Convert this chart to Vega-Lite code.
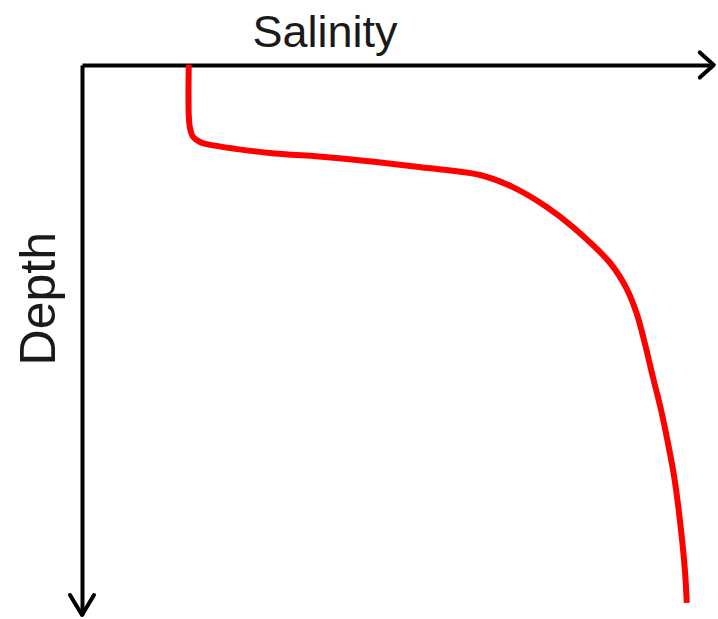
{
  "$schema": "https://vega.github.io/schema/vega-lite/v6.json",
  "width": 628,
  "height": 550,
  "autosize": {"type": "none"},
  "padding": {"left": 82, "top": 65, "right": 8, "bottom": 4},
  "background": "white",
  "config": {
    "view": {"stroke": null},
    "axis": {"labels": false, "ticks": false, "grid": false, "domainColor": "black", "domainWidth": 4, "title": null}
  },
  "datasets": {
    "curve": [
      {"order": 1, "salinity": 17.0, "depth": 0},
      {"order": 2, "salinity": 17.0, "depth": 9.1},
      {"order": 3, "salinity": 17.2, "depth": 11.5},
      {"order": 4, "salinity": 17.7, "depth": 13.1},
      {"order": 5, "salinity": 18.8, "depth": 14.0},
      {"order": 6, "salinity": 19.9, "depth": 14.4},
      {"order": 7, "salinity": 24.7, "depth": 15.3},
      {"order": 8, "salinity": 29.9, "depth": 16.0},
      {"order": 9, "salinity": 39.5, "depth": 16.8},
      {"order": 10, "salinity": 46.5, "depth": 17.6},
      {"order": 11, "salinity": 54.0, "depth": 18.6},
      {"order": 12, "salinity": 63.4, "depth": 20.0},
      {"order": 13, "salinity": 68.6, "depth": 22.2},
      {"order": 14, "salinity": 74.0, "depth": 25.8},
      {"order": 15, "salinity": 78.2, "depth": 29.5},
      {"order": 17, "salinity": 84.1, "depth": 36.0},
      {"order": 18, "salinity": 86.6, "depth": 40.4},
      {"order": 19, "salinity": 88.3, "depth": 45.1},
      {"order": 20, "salinity": 89.6, "depth": 50.5},
      {"order": 21, "salinity": 90.9, "depth": 56.7},
      {"order": 22, "salinity": 92.2, "depth": 62.7},
      {"order": 23, "salinity": 93.3, "depth": 68.7},
      {"order": 24, "salinity": 94.3, "depth": 74.9},
      {"order": 25, "salinity": 95.2, "depth": 82.7},
      {"order": 26, "salinity": 96.0, "depth": 91.8},
      {"order": 27, "salinity": 96.3, "depth": 97.8}
    ],
    "xlabel": [{"label": "Salinity", "salinity": 38.7, "depth": -3.3}],
    "ylabel": [{"label": "Depth", "salinity": -4.3, "depth": 42.5}],
    "xarrow": [{"salinity": 100.6, "depth": 0}],
    "yarrow": [{"salinity": 0, "depth": 100}]
  },
  "encoding": {
    "x": {"field": "salinity", "type": "quantitative", "scale": {"domain": [0, 100], "nice": false, "zero": false}, "axis": {"orient": "top"}, "title": null},
    "y": {"field": "depth", "type": "quantitative", "scale": {"domain": [0, 100], "nice": false, "zero": false, "reverse": true}, "axis": {"orient": "left"}, "title": null}
  },
  "layer": [
    {
      "data": {"name": "curve"},
      "mark": {"type": "line", "color": "#ff0000", "strokeWidth": 6, "interpolate": "catmull-rom", "strokeCap": "butt"},
      "encoding": {"order": {"field": "order", "type": "quantitative"}}
    },
    {
      "data": {"name": "xarrow"},
      "mark": {"type": "point", "shape": "M-1,-0.9L0,0L-1,0.9", "size": 784, "filled": false, "stroke": "black", "strokeWidth": 4, "opacity": 1, "strokeJoin": "round", "strokeCap": "round"}
    },
    {
      "data": {"name": "yarrow"},
      "mark": {"type": "point", "shape": "M-0.6,-1L0,0L0.6,-1", "size": 1600, "filled": false, "stroke": "black", "strokeWidth": 4, "opacity": 1, "strokeJoin": "round", "strokeCap": "round"}
    },
    {
      "data": {"name": "xlabel"},
      "mark": {"type": "text", "font": "Liberation Sans", "fontSize": 45, "color": "#1a1a1a", "align": "center", "baseline": "alphabetic"},
      "encoding": {"text": {"field": "label"}}
    },
    {
      "data": {"name": "ylabel"},
      "mark": {"type": "text", "font": "Liberation Sans", "fontSize": 50, "color": "#1a1a1a", "align": "center", "baseline": "alphabetic", "angle": 270},
      "encoding": {"text": {"field": "label"}}
    }
  ]
}
